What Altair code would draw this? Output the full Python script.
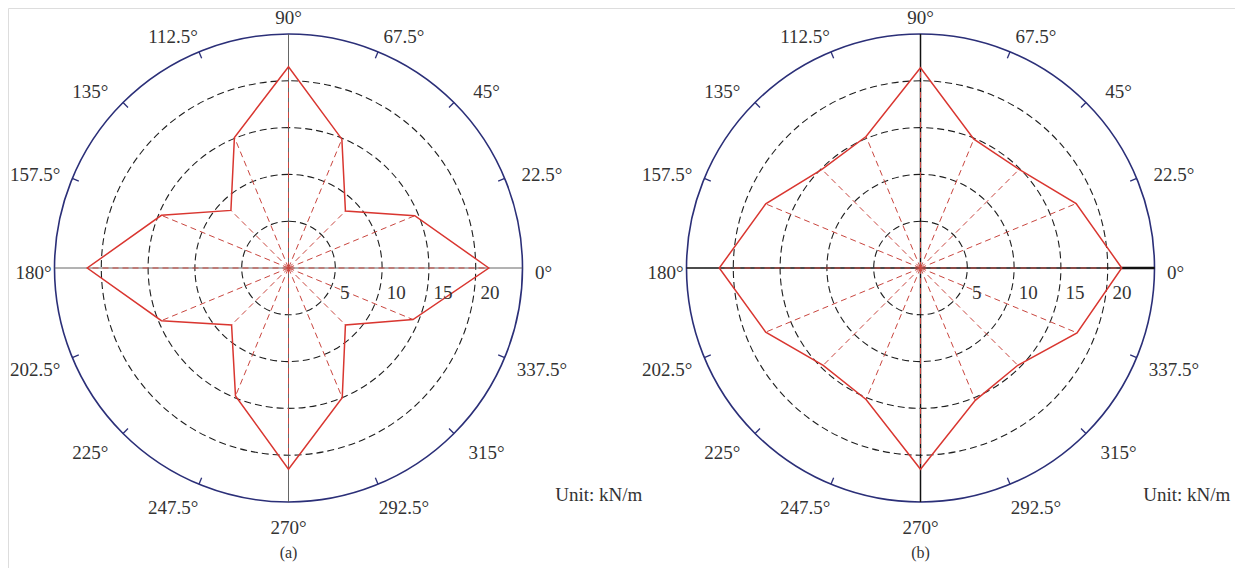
import altair as alt
import pandas as pd

# ---------------- data ----------------
angles = [0, 22.5, 45, 67.5, 90, 112.5, 135, 157.5, 180, 202.5, 225, 247.5, 270, 292.5, 315, 337.5]
angle_labels = ["0°", "22.5°", "45°", "67.5°", "90°", "112.5°", "135°", "157.5°",
                "180°", "202.5°", "225°", "247.5°", "270°", "292.5°", "315°", "337.5°"]
values_a = [21.4, 14.6, 8.6, 14.9, 21.5, 15.1, 8.7, 14.7, 21.5, 14.7, 8.6, 14.8, 21.5, 15.0, 8.6, 14.4]
values_b = [21.5, 18.0, 14.9, 14.9, 21.4, 15.2, 14.9, 17.9, 21.5, 17.9, 14.7, 15.2, 21.5, 15.3, 14.7, 18.1]
ring_values = [5, 10, 15, 20]
ring_labels = ["5", "10", "15", "20"]
panel_names = ["a", "b"]
panel_titles = ["(a)", "(b)"]
unit_text = "Unit: kN/m"
RMAX = 25

# ---------------- layout ----------------
PX = 234 / RMAX            # pixels per unit
W, H = 1227, 560
CXA, CY = 288.5, 268
CXB = 920.5
x_min = -(CXA - 8) / PX
x_max = x_min + W / PX
y_max = (CY - 8) / PX
y_min = y_max - H / PX
offsets = [0.0, (CXB - CXA) / PX]
LABEL_R = 27.25

xs = alt.Scale(domain=[x_min, x_max], nice=False, zero=False)
ys = alt.Scale(domain=[y_min, y_max], nice=False, zero=False)
rs = alt.Scale(domain=[0, RMAX], range=[0, RMAX * PX], nice=False)

FONT = "Liberation Serif"
RED = "#d93630"
SPOKE = "#c9463f"
NAVY = "#2b2f78"
TXT = "#333333"

# ---------------- tables ----------------
rows_poly, rows_ring, rows_outer, rows_tick, rows_lab, rows_ringlab, rows_axes, rows_title = [], [], [], [], [], [], [], []
for p, cx, vals, title in zip(panel_names, offsets, [values_a, values_b], panel_titles):
    for i, (a, v) in enumerate(zip(angles, vals)):
        rows_poly.append({"panel": p, "cx": cx, "idx": i, "angle": a, "value": v})
        rows_lab.append({"panel": p, "cx": cx, "angle": a, "label": angle_labels[i]})
        if a % 90 != 0:
            rows_tick.append({"panel": p, "cx": cx, "angle": a})
    for r, lab in zip(ring_values, ring_labels):
        rows_ring.append({"panel": p, "cx": cx, "cy": 0, "r": r})
        rows_ringlab.append({"panel": p, "cx": cx, "r": r, "label": lab})
    rows_outer.append({"panel": p, "cx": cx, "cy": 0, "r": RMAX})
    for a in [0, 90]:
        rows_axes.append({"panel": p, "cx": cx, "angle": a})
    rows_title.append({"panel": p, "cx": cx, "label": title})

poly_df = pd.DataFrame(rows_poly)
ring_df = pd.DataFrame(rows_ring)
outer_df = pd.DataFrame(rows_outer)
tick_df = pd.DataFrame(rows_tick)
lab_df = pd.DataFrame(rows_lab)
ringlab_df = pd.DataFrame(rows_ringlab)
axes_df = pd.DataFrame(rows_axes)
title_df = pd.DataFrame(rows_title)
unit_df = pd.DataFrame({"panel": panel_names, "cx": offsets, "dx": [28.5, 23.8], "label": [unit_text, unit_text]})
thick_df = pd.DataFrame({"panel": ["b"], "cx": [offsets[1]], "v": [values_b[0]]})

X = lambda f: alt.X(f, scale=xs, axis=None)
Y = lambda f: alt.Y(f, scale=ys, axis=None)
COS = "cos(datum.angle*PI/180)"
SIN = "sin(datum.angle*PI/180)"

rings = alt.Chart(ring_df).mark_arc(filled=False, color="#1e1e1e", strokeWidth=1.1, strokeDash=[7, 4]).encode(
    x=X("cx:Q"), y=Y("cy:Q"), radius=alt.Radius("r:Q", scale=rs, stack=False))

outer = alt.Chart(outer_df).mark_arc(filled=False, color=NAVY, strokeWidth=1.6).encode(
    x=X("cx:Q"), y=Y("cy:Q"), radius=alt.Radius("r:Q", scale=rs, stack=False))

axes_base = alt.Chart(axes_df).transform_calculate(
    x1=f"datum.cx - {RMAX}*{COS}", x2=f"datum.cx + {RMAX}*{COS}",
    y1=f"-{RMAX}*{SIN}", y2=f"{RMAX}*{SIN}")
axes_a = axes_base.transform_filter("datum.panel == 'a'").mark_rule(color="#555555", strokeWidth=0.9).encode(
    x=X("x1:Q"), x2="x2:Q", y=Y("y1:Q"), y2="y2:Q")
axes_b = axes_base.transform_filter("datum.panel == 'b'").mark_rule(color="#111111", strokeWidth=1.5).encode(
    x=X("x1:Q"), x2="x2:Q", y=Y("y1:Q"), y2="y2:Q")

thick = alt.Chart(thick_df).transform_calculate(
    x1="datum.cx + datum.v", x2=f"datum.cx + {RMAX}", y0="0").mark_rule(color="#111111", strokeWidth=2.6).encode(
    x=X("x1:Q"), x2="x2:Q", y=Y("y0:Q"))

ticks = alt.Chart(tick_df).transform_calculate(
    x1=f"datum.cx + {RMAX - 0.75}*{COS}", x2=f"datum.cx + {RMAX}*{COS}",
    y1=f"{RMAX - 0.75}*{SIN}", y2=f"{RMAX}*{SIN}").mark_rule(color=NAVY, strokeWidth=1.3).encode(
    x=X("x1:Q"), x2="x2:Q", y=Y("y1:Q"), y2="y2:Q")

pts = alt.Chart(poly_df).transform_calculate(
    px=f"datum.cx + datum.value*{COS}", py=f"datum.value*{SIN}", x0="datum.cx", y0="0")

spokes = pts.mark_rule(color=SPOKE, strokeWidth=1.0, strokeDash=[6, 4]).encode(
    x=X("x0:Q"), y=Y("y0:Q"), x2="px:Q", y2="py:Q")

poly = pts.mark_line(interpolate="linear-closed", color=RED, strokeWidth=1.5).encode(
    x=X("px:Q"), y=Y("py:Q"), order="idx:Q", detail="panel:N")

labels = alt.Chart(lab_df).transform_calculate(
    ex="datum.angle % 90 == 0 ? 0 : 1.9",
).transform_calculate(
    lx=f"datum.cx + {LABEL_R}*{COS} + datum.ex*({COS} > 0 ? 1 : -1)",
    ly=f"{LABEL_R}*{SIN} - 0.5").mark_text(
    font=FONT, fontSize=19, color=TXT, align="center", baseline="middle").encode(
    x=X("lx:Q"), y=Y("ly:Q"), text="label:N")

ringlabs = alt.Chart(ringlab_df).transform_calculate(
    lx="datum.cx + datum.r + 0.5", ly="-2.7").mark_text(
    font=FONT, fontSize=19, color=TXT, align="left", baseline="middle").encode(
    x=X("lx:Q"), y=Y("ly:Q"), text="label:N")

units = alt.Chart(unit_df).transform_calculate(
    lx="datum.cx + datum.dx", ly="-24.2").mark_text(
    font=FONT, fontSize=19, color=TXT, align="left", baseline="middle").encode(
    x=X("lx:Q"), y=Y("ly:Q"), text="label:N")

titles = alt.Chart(title_df).transform_calculate(
    lx="datum.cx", ly="-30.4").mark_text(
    font=FONT, fontSize=16, color=TXT, align="center", baseline="middle").encode(
    x=X("lx:Q"), y=Y("ly:Q"), text="label:N")

chart = alt.layer(rings, outer, axes_a, axes_b, thick, ticks, spokes, poly, labels, ringlabs, units, titles).properties(
    width=W, height=H, autosize=alt.AutoSizeParams(type="none"), padding=0
).configure_view(stroke=None).configure(background="white")

chart.save("out.html", embed_options={"renderer": "svg", "actions": False})
